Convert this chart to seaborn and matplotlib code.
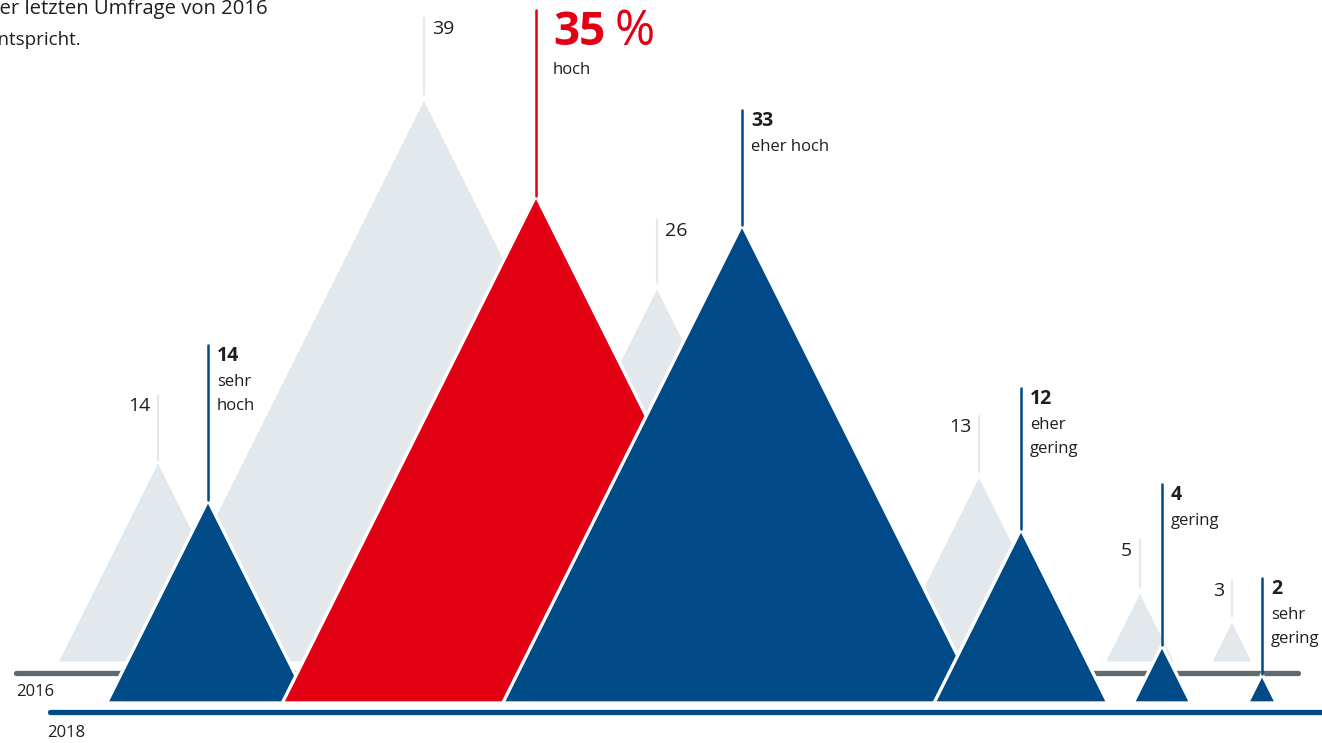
import numpy as np
import pandas as pd
import matplotlib.pyplot as plt
import seaborn as sns

sns.set_theme(style="white")
plt.rcParams['font.family'] = ['Open Sans', 'DejaVu Sans']

# data (percent)
categories = ["sehr hoch", "hoch", "eher hoch", "eher gering", "gering", "sehr gering"]
cat_labels = ["sehr\nhoch", "hoch", "eher hoch", "eher\ngering", "gering", "sehr\ngering"]
values_2016 = [14, 39, 26, 13, 5, 3]
values_2018 = [14, 35, 33, 12, 4, 2]
highlight = "hoch"
intro_line1 = "der letzten Umfrage von 2016"
intro_line2 = "entspricht."

# layout (pixels of the 1322x743 canvas)
PX = 14.5            # pixels per percentage point
BASE18, BASE16 = 703, 663
peak_x16 = [158, 424, 657, 979, 1140, 1232]
peak_x18 = [208, 536, 742, 1021, 1162, 1262]
stem_top16 = [395, 18, 220, 416, 540, 580]
stem_top18 = [345, 10, 110, 388, 484, 578]
label_side16 = ["l", "r", "r", "l", "l", "l"]

GRAY = "#E3E8EC"
DARK = "#5F6A6F"
BLUE = "#004A87"
RED = "#E30012"
TXT = "#1E1E1E"


def fx(x):
    return x / PX


def fy(y):
    return (BASE18 - y) / PX


fig = plt.figure(figsize=(13.22, 7.43), dpi=100)
ax = fig.add_axes([0, 0, 1, 1])
ax.set_xlim(0, fx(1322))
ax.set_ylim(fy(743), fy(0))
ax.axis("off")

b16 = fy(BASE16)

# 2016 layer
for i, v in enumerate(values_2016):
    cx = fx(peak_x16[i])
    ax.fill([cx - v / 2, cx, cx + v / 2], [b16, b16 + v, b16], color=GRAY,
            ec="white", lw=2.2, zorder=2 + i * 0.01, joinstyle="miter")
    ax.plot([cx, cx], [b16 + v, fy(stem_top16[i])], color=GRAY, lw=1.6, zorder=2)
    if label_side16[i] == "l":
        ax.text(cx - fx(8), fy(stem_top16[i] + 11), str(v), ha="right", va="center",
                fontsize=14, color=TXT)
    else:
        ax.text(cx + fx(8), fy(stem_top16[i] + 11), str(v), ha="left", va="center",
                fontsize=14, color=TXT)

lines = pd.DataFrame({
    "x": [fx(16), fx(1298), fx(50), fx(1322)],
    "y": [fy(673), fy(673), fy(712), fy(712)],
    "year": ["2016", "2016", "2018", "2018"],
})
sns.lineplot(data=lines, x="x", y="y", hue="year", palette=[DARK, BLUE],
             lw=3.8, legend=False, ax=ax, zorder=2.5)
ax.text(fx(16), fy(692), "2016", ha="left", va="center", fontsize=12, color=TXT)
ax.text(fx(47), fy(733), "2018", ha="left", va="center", fontsize=12, color=TXT)

# 2018 layer
for i, v in enumerate(values_2018):
    cx = fx(peak_x18[i])
    col = RED if categories[i] == highlight else BLUE
    ax.fill([cx - v / 2, cx, cx + v / 2], [0, v, 0], color=col,
            ec="white", lw=2.4, zorder=3 + i, joinstyle="miter")
    ax.plot([cx, cx], [v, fy(stem_top18[i])], color=col, lw=1.8, zorder=3 + i)
    tx = cx + fx(9)
    top = stem_top18[i]
    if categories[i] == highlight:
        ax.text(tx + fx(8), fy(top + 22), f"{v}", ha="left", va="center",
                fontsize=33, fontweight="bold", color=RED)
        ax.text(fx(615), fy(top + 22), "%", ha="left", va="center",
                fontsize=35, fontweight="medium", color=RED)
        ax.text(tx + fx(8), fy(top + 60), cat_labels[i], ha="left", va="center",
                fontsize=12, color=TXT)
    else:
        ax.text(tx, fy(top + 11), str(v), ha="left", va="center",
                fontsize=14, fontweight="bold", color=TXT)
        for k, part in enumerate(cat_labels[i].split("\n")):
            ax.text(tx, fy(top + 37 + 24 * k), part, ha="left", va="center",
                    fontsize=12, color=TXT)

# intro text cut at the top-left corner
ax.text(fx(268), fy(14), intro_line1, ha="right", va="baseline",
        fontsize=14.6, color=TXT)
ax.text(fx(81), fy(45), intro_line2, ha="right", va="baseline",
        fontsize=13.5, color=TXT)

fig.savefig("out.png", dpi=100)
